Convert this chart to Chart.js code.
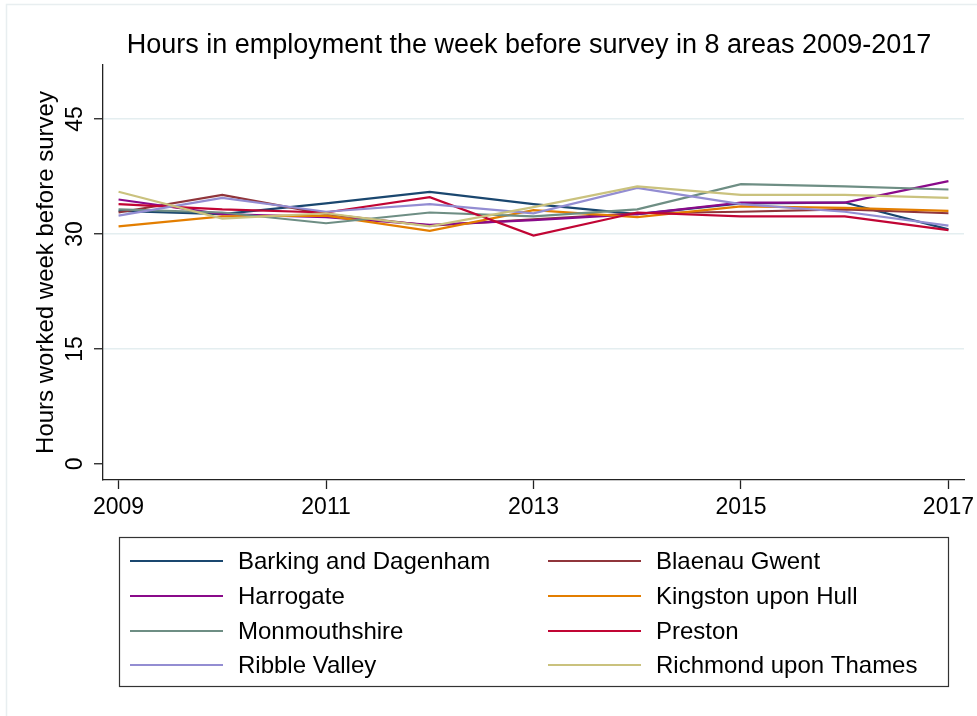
<!DOCTYPE html>
<html>
<head>
<meta charset="utf-8">
<script src="https://cdn.jsdelivr.net/npm/chart.js@4"></script>
<style>
  html, body { margin: 0; padding: 0; background: #fff; }
  #wrap { width: 977px; height: 716px; position: relative; }
</style>
</head>
<body>
<div id="wrap"><canvas id="hoursChart"></canvas></div>
<script>
const years = [2009, 2010, 2011, 2012, 2013, 2014, 2015, 2016, 2017];
const xTicks = [2009, 2011, 2013, 2015, 2017];
const yTicks = [0, 15, 30, 45];

const areaNames = [
    'Barking and Dagenham', 'Blaenau Gwent', 'Harrogate', 'Kingston upon Hull',
    'Monmouthshire', 'Preston', 'Ribble Valley', 'Richmond upon Thames'
];
const areaColors = [
    '#1a476f', '#90353b', '#8a0a8a', '#e37e00',
    '#6e8e84', '#c10534', '#938dd2', '#cac27e'
];

const barking   = [33.0, 32.6, 34.0, 35.5, 33.9, 32.6, 34.0, 34.1, 30.6];
const blaenau   = [32.8, 35.1, 32.6, 31.1, 31.9, 32.7, 32.9, 33.2, 32.7];
const harrogate = [34.5, 32.6, 32.2, 31.2, 31.8, 32.6, 34.1, 34.1, 36.9];
const kingston  = [31.0, 32.3, 32.4, 30.4, 33.1, 32.2, 33.6, 33.4, 33.0];
const monmouth  = [33.2, 32.8, 31.4, 32.8, 32.3, 33.2, 36.5, 36.2, 35.8];
const preston   = [33.9, 33.2, 32.8, 34.8, 29.8, 32.8, 32.3, 32.3, 30.5];
const ribble    = [32.4, 34.7, 32.9, 33.9, 32.7, 36.0, 33.9, 32.9, 31.1];
const richmond  = [35.5, 32.0, 32.7, 31.0, 33.5, 36.2, 35.1, 35.1, 34.7];

const areaValues = [barking, blaenau, harrogate, kingston, monmouth, preston, ribble, richmond];

const FONT = "'Liberation Sans', Helvetica, Arial, sans-serif";

// draws white background, faint frame, rotated y labels, x labels, y title and the boxed legend
const stataLook = {
    id: 'stataLook',
    beforeDraw(chart) {
        const ctx = chart.ctx;
        ctx.save();
        ctx.fillStyle = '#fff';
        ctx.fillRect(0, 0, chart.width, chart.height);
        ctx.strokeStyle = '#e8eef0';
        ctx.lineWidth = 1.5;
        ctx.strokeRect(6.5, 4.5, 1200, 1200);
        ctx.restore();
    },
    afterDraw(chart) {
        const ctx = chart.ctx;
        const xs = chart.scales.x;
        const ys = chart.scales.y;
        const area = chart.chartArea;
        ctx.save();
        ctx.fillStyle = '#000';

        // x tick labels
        ctx.font = '23px ' + FONT;
        ctx.textAlign = 'center';
        ctx.textBaseline = 'alphabetic';
        xs.ticks.forEach(t => {
            ctx.fillText(String(t.value), xs.getPixelForValue(t.value), 514);
        });

        // y tick labels, rotated
        ys.ticks.forEach(t => {
            ctx.save();
            ctx.translate(82, ys.getPixelForValue(t.value));
            ctx.rotate(-Math.PI / 2);
            ctx.fillText(String(t.value), 0, 0);
            ctx.restore();
        });

        // y axis title
        ctx.font = '24px ' + FONT;
        ctx.save();
        ctx.translate(53, (area.top + area.bottom) / 2);
        ctx.rotate(-Math.PI / 2);
        ctx.fillText('Hours worked week before survey', 0, 0);
        ctx.restore();

        // legend box
        ctx.strokeStyle = '#333';
        ctx.lineWidth = 1.2;
        ctx.strokeRect(119.5, 537.5, 829, 149);
        ctx.textAlign = 'left';
        ctx.textBaseline = 'middle';
        const rowY = [561, 596, 631, 665];
        chart.data.datasets.forEach((ds, i) => {
            const col = i % 2;
            const y = rowY[Math.floor(i / 2)];
            const x0 = col === 0 ? 130 : 548;
            ctx.strokeStyle = ds.borderColor;
            ctx.lineWidth = 2;
            ctx.beginPath();
            ctx.moveTo(x0, y);
            ctx.lineTo(x0 + 93, y);
            ctx.stroke();
            ctx.fillText(ds.label, col === 0 ? 238 : 656, y + 1);
        });
        ctx.restore();
    }
};

const datasets = areaNames.map((name, i) => ({
    label: name,
    data: areaValues[i],
    borderColor: areaColors[i],
    backgroundColor: areaColors[i],
    borderWidth: 2.2,
    pointRadius: 0,
    tension: 0,
    fill: false,
    order: areaNames.length - i
}));

new Chart(document.getElementById('hoursChart'), {
    type: 'line',
    data: { labels: years, datasets: datasets },
    options: {
        responsive: true,
        maintainAspectRatio: false,
        animation: false,
        layout: { padding: { left: 94, right: 13, top: 0, bottom: 227 } },
        plugins: {
            legend: { display: false },
            tooltip: { enabled: false },
            title: {
                display: true,
                text: 'Hours in employment the week before survey in 8 areas 2009-2017',
                color: '#000',
                font: { family: FONT, size: 27, weight: 'normal' },
                padding: { top: 29.8, bottom: 2.8 }
            }
        },
        scales: {
            x: {
                type: 'linear',
                min: 2008.85,
                max: 2017.15,
                afterBuildTicks: scale => { scale.ticks = xTicks.map(v => ({ value: v })); },
                ticks: { display: false },
                grid: {
                    drawOnChartArea: false,
                    drawTicks: true,
                    tickLength: 9,
                    tickColor: '#222',
                    tickWidth: 1.3
                },
                border: { display: true, color: '#222', width: 1.3 }
            },
            y: {
                min: -2.09,
                max: 52.04,
                afterBuildTicks: scale => { scale.ticks = yTicks.map(v => ({ value: v })); },
                ticks: { display: false },
                grid: {
                    color: ctx => (ctx.tick && ctx.tick.value === 0) ? 'rgba(0,0,0,0)' : '#e4eef0',
                    lineWidth: 1.5,
                    drawTicks: true,
                    tickLength: 9,
                    tickColor: '#222',
                    tickWidth: 1.3
                },
                border: { display: true, color: '#222', width: 1.3 }
            }
        }
    },
    plugins: [stataLook]
});
</script>
</body>
</html>
